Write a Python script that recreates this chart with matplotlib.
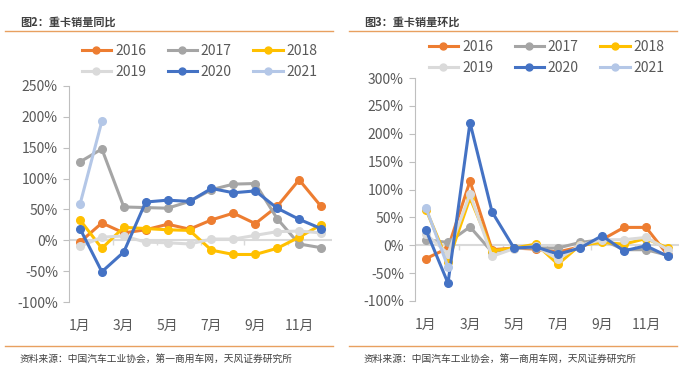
import matplotlib
matplotlib.use("Agg")
from matplotlib import pyplot as plt
from matplotlib.lines import Line2D

plt.rcParams['font.family'] = ['Noto Sans CJK SC', 'DejaVu Sans']

# months 1..12
months = list(range(1, 13))
years = ['2016', '2017', '2018', '2019', '2020', '2021']
colors = ['#ED7D31', '#A5A5A5', '#FFC000', '#DADADA', '#4472C4', '#B4C7E7']

# 图2 重卡销量同比 (%)
yoy_2016 = [-3, 28, 12, 17, 26, 18, 33, 44, 27, 55, 98, 55]
yoy_2017 = [127, 148, 54, 53, 52, 63, 82, 91, 92, 35, -6, -12]
yoy_2018 = [33, -13, 21, 19, 17, 16, -16, -23, -23, -13, 5, 25]
yoy_2019 = [-10, 5, 7, -3, -4, -6, 2, 2, 8, 14, 15, 12]
yoy_2020 = [19, -51, -19, 62, 65, 63, 84, 77, 80, 52, 34, 19]
yoy_2021 = [58, 193]

# 图3 重卡销量环比 (%)
mom_2016 = [-24, -5, 115, -8, -5, -7, -12, -3, 10, 32, 32, -18]
mom_2017 = [10, 5, 33, -12, -5, -5, -5, 5, 10, -8, -8, -18]
mom_2018 = [64, -30, 85, -10, -5, 2, -34, 0, 5, 2, 12, -5]
mom_2019 = [20, -15, 92, -20, -6, -2, -25, 0, 10, 10, 14, -8]
mom_2020 = [27, -68, 220, 60, -5, -3, -16, -5, 17, -10, -1, -20]
mom_2021 = [67, -39]

yoy = [yoy_2016, yoy_2017, yoy_2018, yoy_2019, yoy_2020, yoy_2021]
mom = [mom_2016, mom_2017, mom_2018, mom_2019, mom_2020, mom_2021]

W, H = 688, 377
fig = plt.figure(figsize=(W / 100, H / 100), dpi=100)

grey_txt = '#595959'
rule_col = '#E8A060'


def px(x, y):
    return x / W, 1 - y / H


def panel(left, right, top, bottom, series, ylim, yticks, title, xoff, leg_xy):
    ax = fig.add_axes([left / W, 1 - bottom / H, (right - left) / W, (bottom - top) / H])
    ax.axhline(0, color='#D9D9D9', lw=1.5, zorder=1)
    ax.vlines([2.5, 4.5, 6.5, 8.5, 10.5], -7 * (ylim[1] - ylim[0]) / 350, 0,
              color='#D9D9D9', lw=1, zorder=1)
    for vals, c in zip(series, colors):
        ax.plot(months[:len(vals)], vals, color=c, lw=2.2, marker='o', ms=5.5,
                zorder=3)
    ax.set_xlim(0.5, 12.5)
    ax.set_ylim(*ylim)
    ax.set_yticks(yticks)
    ax.set_yticklabels([f'{v}%' for v in yticks])
    ax.set_xticks([1, 3, 5, 7, 9, 11])
    ax.set_xticklabels(['1月', '3月', '5月', '7月', '9月', '11月'])
    for s in ['top', 'right', 'bottom']:
        ax.spines[s].set_visible(False)
    ax.spines['left'].set_color('#BFBFBF')
    ax.tick_params(axis='y', colors='#BFBFBF', labelcolor=grey_txt,
                   labelsize=10, length=4, pad=4)
    ax.tick_params(axis='x', length=0, labelcolor=grey_txt, labelsize=10, pad=12)

    # row-wise legend order for 3 columns
    order = [0, 3, 1, 4, 2, 5]
    handles = [Line2D([], [], color=colors[i], lw=2.2, marker='o', ms=5) for i in order]
    labels = [years[i] for i in order]
    fig.legend(handles, labels, ncol=3, loc='lower left',
               bbox_to_anchor=px(*leg_xy), bbox_transform=fig.transFigure,
               frameon=False, fontsize=10, handlelength=2.1, handletextpad=0.3,
               columnspacing=1.55, labelspacing=0.5, labelcolor=grey_txt,
               borderpad=0.2)

    # title, rules, source
    fig.text(*px(xoff + 20, 22), title, fontsize=8, fontweight='bold',
             color='#404040', va='center', ha='left')
    fig.add_artist(Line2D([(xoff + 5) / W, (xoff + 333) / W], [1 - 31 / H] * 2,
                          color=rule_col, lw=1))
    fig.add_artist(Line2D([(xoff + 5) / W, (xoff + 333) / W], [1 - 346 / H] * 2,
                          color=rule_col, lw=1))
    fig.text(*px(xoff + 20, 359), '资料来源：中国汽车工业协会，第一商用车网，天风证券研究所',
             fontsize=7, color='#404040', va='center', ha='left')
    return ax


panel(69, 332, 86, 302, yoy, (-100, 250), [-100, -50, 0, 50, 100, 150, 200, 250],
      '图2：重卡销量同比', 0, (72, 89))
panel(415, 679, 78, 301, mom, (-100, 300),
      [-100, -50, 0, 50, 100, 150, 200, 250, 300], '图3：重卡销量环比', 344, (419, 85))

fig.savefig('out.png', dpi=100)
